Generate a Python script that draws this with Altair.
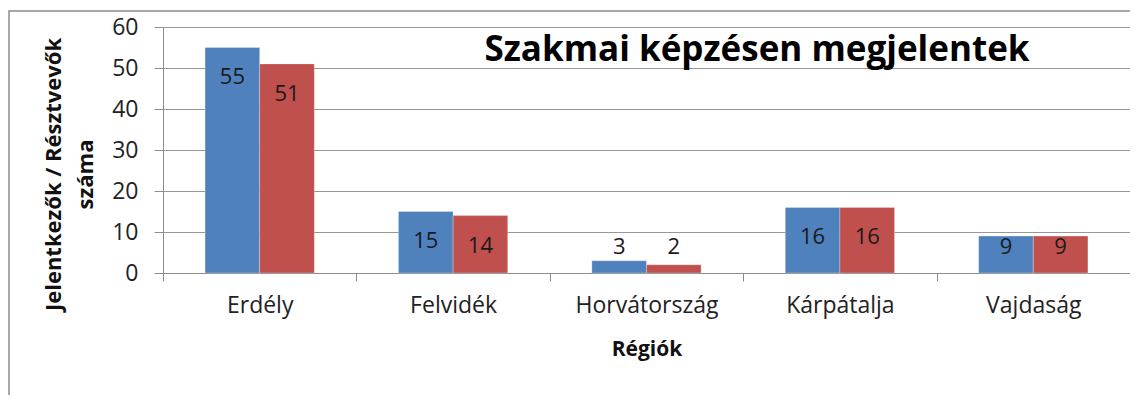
import altair as alt
import pandas as pd

regions = ["Erdély", "Felvidék", "Horvátország", "Kárpátalja", "Vajdaság"]
series = ["Jelentkezők", "Résztvevők"]
jelentkezok = [55, 15, 3, 16, 9]
resztvevok = [51, 14, 2, 16, 9]
colors = ["#4F81BD", "#C0504D"]
y_ticks = [0, 10, 20, 30, 40, 50, 60]
chart_title = "Szakmai képzésen megjelentek"
x_title = "Régiók"
y_title = ["Jelentkezők / Résztvevők", "száma"]

rows = []
for r, a, b in zip(regions, jelentkezok, resztvevok):
    rows.append({"region": r, "series": series[0], "value": a})
    rows.append({"region": r, "series": series[1], "value": b})
df = pd.DataFrame(rows)

W, H = 967, 246
FONT = "Open Sans"

x_enc = alt.X("region:N", sort=regions,
              scale=alt.Scale(paddingInner=0, paddingOuter=0),
              axis=alt.Axis(title=x_title, labelAngle=0, tickBand="extent",
                            labelFontSize=23, labelColor="#222", labelPadding=13,
                            tickSize=8, tickColor="#8c8c8c", domainColor="#8c8c8c",
                            titleFontSize=21, titleFontWeight="bold", titleColor="#111",
                            titlePadding=21, grid=False))
xoff = alt.XOffset("series:N", sort=series,
                   scale=alt.Scale(paddingInner=0, paddingOuter=0.77))

bars = alt.Chart(df).mark_bar(stroke="#ffffff", strokeOpacity=0.35, strokeWidth=0.8).encode(
    x=x_enc,
    xOffset=xoff,
    y=alt.Y("value:Q", scale=alt.Scale(domain=[0, 60], nice=False),
            axis=alt.Axis(title=y_title, values=y_ticks, labelFontSize=23,
                          labelColor="#222", labelPadding=16, tickSize=9,
                          tickColor="#8c8c8c", domainColor="#8c8c8c",
                          gridColor="#8c8c8c", gridOpacity=0.9,
                          titleFontSize=22, titleFontWeight="bold", titleColor="#111",
                          titlePadding=14, titleLineHeight=32, titleY=147)),
    color=alt.Color("series:N", sort=series,
                    scale=alt.Scale(domain=series, range=colors), legend=None),
)

labels = alt.Chart(df).transform_calculate(
    pos="max(datum.value - 7.3, 6.45)"
).mark_text(fontSize=22, color="#1a1a1a", baseline="middle", font=FONT).encode(
    x=alt.X("region:N", sort=regions),
    xOffset=alt.XOffset("series:N", sort=series),
    y=alt.Y("pos:Q"),
    text=alt.Text("value:Q"),
)

title_df = pd.DataFrame({"t": [chart_title]})
title = alt.Chart(title_df).mark_text(
    fontSize=35, fontWeight="bold", font=FONT, color="#000", baseline="middle", align="center"
).encode(x=alt.value(594), y=alt.value(23), text="t:N")

frame = alt.Chart(title_df).mark_rect(
    filled=False, stroke="#8c8c8c", strokeWidth=1.5
).encode(x=alt.value(-154), x2=alt.value(W + 60), y=alt.value(-16), y2=alt.value(H + 300))

chart = alt.layer(frame, bars, labels, title).properties(
    width=W, height=H,
    padding={"left": 155, "top": 19, "right": 0, "bottom": 122},
    autosize=alt.AutoSizeParams(type="none"),
).configure(font=FONT).configure_view(stroke=None)

chart.save("out.html", embed_options={"renderer": "svg", "actions": False})
